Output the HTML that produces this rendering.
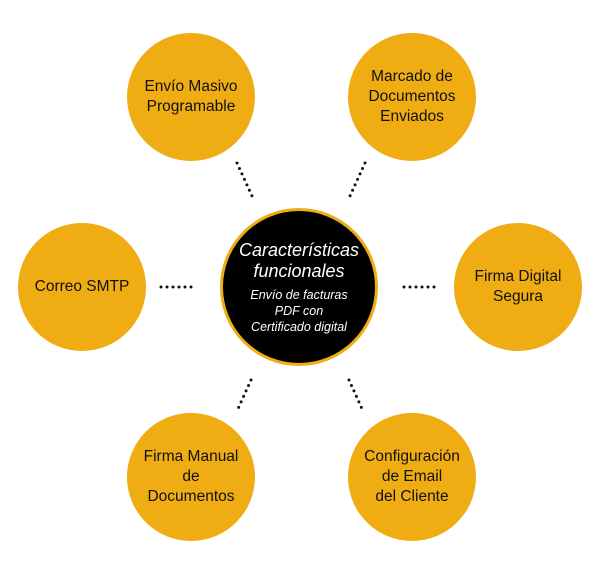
<!DOCTYPE html>
<html><head><meta charset="utf-8"><style>
body{margin:0;width:600px;height:574px;background:#fff;position:relative;overflow:hidden;font-family:"Liberation Sans",sans-serif}
.c{position:absolute;width:128px;height:128px;border-radius:50%;background:#efac13;display:flex;align-items:center;justify-content:center;text-align:center;font-size:15.5px;line-height:20px;color:#111}
.m{position:absolute;left:220px;top:208px;width:152px;height:152px;border-radius:50%;background:#000;border:3px solid #efac13;display:flex;flex-direction:column;align-items:center;justify-content:center;text-align:center;color:#fff;font-style:italic}
</style></head><body>
<svg width="600" height="574" style="position:absolute;left:0;top:0">
<g stroke="#111" stroke-width="3" stroke-linecap="round" stroke-dasharray="0 6">
<line x1="237" y1="163" x2="252" y2="196"/>
<line x1="365" y1="163" x2="350" y2="196"/>
<line x1="161" y1="287" x2="197" y2="287"/>
<line x1="404" y1="287" x2="440" y2="287"/>
<line x1="251" y1="380" x2="237" y2="411"/>
<line x1="349" y1="380" x2="363" y2="411"/>
</g></svg>
<div class="c" style="left:127px;top:33px">Envío Masivo<br>Programable</div>
<div class="c" style="left:348px;top:33px">Marcado de<br>Documentos<br>Enviados</div>
<div class="c" style="left:18px;top:223px">Correo SMTP</div>
<div class="c" style="left:454px;top:223px">Firma Digital<br>Segura</div>
<div class="c" style="left:127px;top:413px">Firma Manual<br>de<br>Documentos</div>
<div class="c" style="left:348px;top:413px">Configuración<br>de Email<br>del Cliente</div>
<div class="m"><div style="font-size:18px;line-height:21px">Características<br>funcionales</div><div style="font-size:12.5px;line-height:16px;margin-top:5px">Envío de facturas<br>PDF con<br>Certificado digital</div></div>
</body></html>
